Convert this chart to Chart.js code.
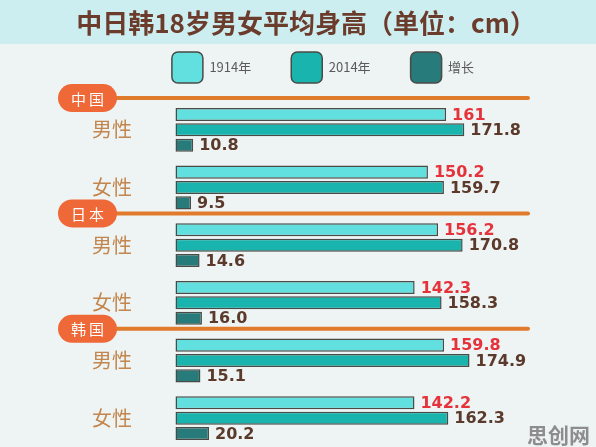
<!DOCTYPE html>
<html lang="zh">
<head>
<meta charset="utf-8">
<title>中日韩18岁男女平均身高</title>
<script src="https://cdn.jsdelivr.net/npm/chart.js@4.4.1/dist/chart.umd.min.js"></script>
<style>
  html, body { margin: 0; padding: 0; background: #eef4f4; }
  canvas { display: block; }
</style>
</head>
<body>
<canvas id="height-chart" width="596" height="447"></canvas>
<script>
// --- Data ---
const titleText = '中日韩18岁男女平均身高（单位：cm）';
const countries = ['中国', '日本', '韩国'];
const groups = ['男性', '女性', '男性', '女性', '男性', '女性'];
const seriesNames = ['1914年', '2014年', '增长'];
const heights1914 = [161, 150.2, 156.2, 142.3, 159.8, 142.2];
const heights2014 = [171.8, 159.7, 170.8, 158.3, 174.9, 162.3];
const growth = [10.8, 9.5, 14.6, 16.0, 15.1, 20.2];

const CJK = '"Noto Sans CJK SC", "Noto Sans", sans-serif';
const NUM = '"DejaVu Sans", sans-serif';

// --- Plugins ---
const backdrop = {
    id: 'backdrop',
    beforeDraw(chart) {
        const { ctx, width, height } = chart;
        ctx.save();
        ctx.fillStyle = '#eef4f4';
        ctx.fillRect(0, 0, width, height);
        ctx.fillStyle = '#cdeef0';
        ctx.fillRect(0, 0, width, 44);
        ctx.fillStyle = '#6b3b2b';
        ctx.font = `bold 26px ${CJK}`;
        ctx.textAlign = 'center';
        ctx.textBaseline = 'middle';
        ctx.fillText(titleText, 306, 23);
        ctx.restore();
    }
};

const annotations = {
    id: 'annotations',
    afterDatasetsDraw(chart) {
        const ctx = chart.ctx;
        const yScale = chart.scales.y;
        const step = yScale.getPixelForValue(1) - yScale.getPixelForValue(0);
        ctx.save();

        // country headers
        countries.forEach((name, k) => {
            const y = yScale.getPixelForValue(k * 2) - step * 0.55;
            ctx.strokeStyle = '#e07b2c';
            ctx.lineWidth = 4;
            ctx.lineCap = 'round';
            ctx.beginPath();
            ctx.moveTo(100, y);
            ctx.lineTo(528, y);
            ctx.stroke();
            ctx.fillStyle = '#ef6837';
            ctx.beginPath();
            ctx.roundRect(58, y - 14, 59, 28, 14);
            ctx.fill();
            ctx.fillStyle = '#ffffff';
            ctx.font = `15px ${CJK}`;
            ctx.letterSpacing = '3px';
            ctx.textAlign = 'center';
            ctx.textBaseline = 'middle';
            ctx.fillText(name, 89, y + 1);
            ctx.letterSpacing = '0px';
        });

        // value labels
        ctx.textAlign = 'left';
        ctx.textBaseline = 'middle';
        ctx.font = `bold 16px ${NUM}`;
        chart.data.datasets.forEach((ds, i) => {
            chart.getDatasetMeta(i).data.forEach((bar, j) => {
                const v = ds.data[j];
                const text = i === 2 ? v.toFixed(1) : String(v);
                ctx.fillStyle = i === 0 ? '#e5323b' : '#5b3a2c';
                ctx.fillText(text, bar.x + 6, bar.y + 1);
            });
        });

        // watermark
        ctx.fillStyle = '#8d8d8d';
        ctx.font = `bold 21px ${CJK}`;
        ctx.textAlign = 'right';
        ctx.fillText('思创网', 590, 435);
        ctx.restore();
    }
};

// --- Chart ---
new Chart(document.getElementById('height-chart'), {
    type: 'bar',
    data: {
        labels: groups,
        datasets: [
            { label: seriesNames[0], data: heights1914, backgroundColor: '#62dfdf' },
            { label: seriesNames[1], data: heights2014, backgroundColor: '#18b4ad' },
            { label: seriesNames[2], data: growth, backgroundColor: '#287b7b' }
        ].map(ds => Object.assign(ds, {
            borderColor: '#4a4a46',
            borderWidth: 1.5,
            borderSkipped: false,
            categoryPercentage: 0.8,
            barPercentage: 0.85
        }))
    },
    options: {
        indexAxis: 'y',
        responsive: false,
        animation: false,
        layout: { padding: { top: 12, left: 50, right: 0, bottom: 0 } },
        scales: {
            // invisible axis on top, only used as a small gap under the legend
            x: {
                position: 'top',
                min: 0,
                max: 250,
                ticks: { display: false },
                grid: { drawOnChartArea: false, drawTicks: true, tickLength: 8, color: 'transparent' },
                border: { display: false }
            },
            y: {
                // transparent tick marks push the labels away from the bars
                grid: { drawOnChartArea: false, drawTicks: true, tickLength: 43, color: 'transparent' },
                border: { display: false },
                ticks: { color: '#c3864e', font: { family: CJK, size: 20 }, padding: 0 },
                afterFit: (scale) => {
                    scale.width = 125;
                    scale.paddingTop = 0;
                    scale.paddingBottom = 0;
                }
            }
        },
        plugins: {
            legend: {
                position: 'top',
                labels: {
                    boxWidth: 31,
                    boxHeight: 31,
                    useBorderRadius: true,
                    borderRadius: 6,
                    padding: 40,
                    color: '#5a5a5a',
                    font: { family: CJK, size: 13 }
                }
            },
            tooltip: { enabled: false }
        }
    },
    plugins: [backdrop, annotations]
});
</script>
</body>
</html>
